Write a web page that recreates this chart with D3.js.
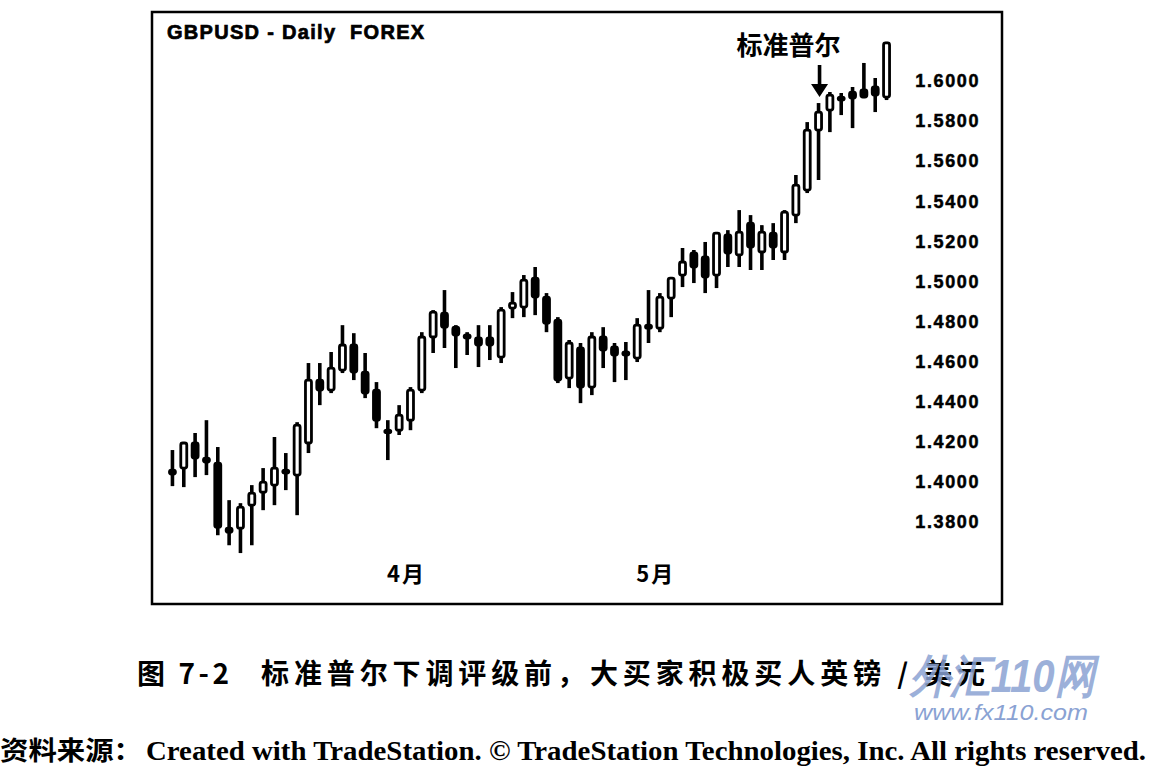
<!DOCTYPE html>
<html lang="zh">
<head>
<meta charset="UTF-8">
<title>GBPUSD - Daily FOREX</title>
<script src="https://d3js.org/d3.v7.min.js"></script>
<style>
  body { margin: 0; background: #fff; }
  svg { display: block; }
</style>
</head>
<body>
<svg id="chart"></svg>
<script>
// trading days, March 3 - May 29, 2009
var dates = [
  "2009-03-03","2009-03-04","2009-03-05","2009-03-06",
  "2009-03-09","2009-03-10","2009-03-11","2009-03-12","2009-03-13",
  "2009-03-16","2009-03-17","2009-03-18","2009-03-19","2009-03-20",
  "2009-03-23","2009-03-24","2009-03-25","2009-03-26","2009-03-27",
  "2009-03-30","2009-03-31","2009-04-01","2009-04-02","2009-04-03",
  "2009-04-06","2009-04-07","2009-04-08","2009-04-09","2009-04-10",
  "2009-04-13","2009-04-14","2009-04-15","2009-04-16","2009-04-17",
  "2009-04-20","2009-04-21","2009-04-22","2009-04-23","2009-04-24",
  "2009-04-27","2009-04-28","2009-04-29","2009-04-30","2009-05-01",
  "2009-05-04","2009-05-05","2009-05-06","2009-05-07","2009-05-08",
  "2009-05-11","2009-05-12","2009-05-13","2009-05-14","2009-05-15",
  "2009-05-18","2009-05-19","2009-05-20","2009-05-21","2009-05-22",
  "2009-05-25","2009-05-26","2009-05-27","2009-05-28","2009-05-29"
];
var opens = [
  1.4059,1.4069,1.4194,1.4119,1.4094,1.3769,1.3769,1.3884,1.3949,1.3984,
  1.4059,1.4034,1.4194,1.4508,1.4458,1.4558,1.4683,1.4548,1.4458,1.4258,
  1.4258,1.4308,1.4458,1.4723,1.4842,1.4772,1.4733,1.4718,1.4718,1.4623,
  1.4867,1.4872,1.5017,1.4922,1.4807,1.4518,1.4668,1.4473,1.4723,1.4673,
  1.4648,1.4618,1.4782,1.4767,1.4917,1.5032,1.5142,1.5122,1.5032,1.5232,
  1.5132,1.5291,1.5147,1.5241,1.5147,1.5331,1.5456,1.5755,1.5855,1.5920,
  1.5945,1.5955,1.5970,1.5920
];
var highs = [
  1.4159,1.4199,1.4244,1.4308,1.4174,1.3909,1.3894,1.3984,1.4069,1.4224,
  1.4144,1.4298,1.4593,1.4593,1.4648,1.4782,1.4742,1.4643,1.4498,1.4308,
  1.4383,1.4473,1.4747,1.4857,1.4957,1.4782,1.4747,1.4782,1.4782,1.4872,
  1.4947,1.5032,1.5072,1.4942,1.4822,1.4708,1.4693,1.4747,1.4772,1.4693,
  1.4698,1.4817,1.4957,1.4942,1.5022,1.5167,1.5157,1.5197,1.5246,1.5256,
  1.5356,1.5331,1.5281,1.5291,1.5356,1.5531,1.5795,1.5890,1.5945,1.5940,
  1.5970,1.6090,1.6015,1.6195
];
var lows = [
  1.3979,1.3974,1.4024,1.4034,1.3734,1.3684,1.3645,1.3684,1.3859,1.3884,
  1.3959,1.3834,1.4144,1.4383,1.4443,1.4543,1.4508,1.4418,1.4268,1.4109,
  1.4234,1.4258,1.4443,1.4643,1.4668,1.4568,1.4633,1.4573,1.4608,1.4593,
  1.4817,1.4822,1.4832,1.4747,1.4493,1.4468,1.4393,1.4433,1.4568,1.4498,
  1.4508,1.4598,1.4693,1.4747,1.4822,1.4972,1.4992,1.4942,1.4967,1.5072,
  1.5072,1.5057,1.5057,1.5107,1.5107,1.5291,1.5441,1.5506,1.5745,1.5830,
  1.5765,1.5915,1.5845,1.5905
];
var closes = [
  1.4039,1.4194,1.4119,1.4099,1.3774,1.3749,1.3874,1.3944,1.3999,1.4069,
  1.4044,1.4283,1.4508,1.4458,1.4568,1.4683,1.4548,1.4443,1.4308,1.4248,
  1.4333,1.4458,1.4723,1.4847,1.4772,1.4733,1.4718,1.4683,1.4683,1.4857,
  1.4892,1.5007,1.4922,1.4792,1.4508,1.4693,1.4473,1.4723,1.4658,1.4633,
  1.4633,1.4782,1.4767,1.4922,1.5017,1.5097,1.5072,1.5022,1.5241,1.5142,
  1.5246,1.5172,1.5246,1.5172,1.5346,1.5481,1.5755,1.5845,1.5930,1.5905,
  1.5915,1.5920,1.5930,1.6190
];
var priceTicks = [1.38, 1.40, 1.42, 1.44, 1.46, 1.48, 1.50, 1.52, 1.54, 1.56, 1.58, 1.60];
var monthTicks = ["2009-04-01", "2009-05-01"];
var monthLabels = ["4月", "5月"];
var title = "GBPUSD - Daily  FOREX";
var note = "标准普尔";
var noteDate = "2009-05-21";
var caption1 = "图 7-2";
var caption2 = "标准普尔下调评级前，大买家积极买人英镑 / 美元";
var source1 = "资料来源：";
var source2 = "Created with TradeStation. © TradeStation Technologies, Inc. All rights reserved.";

var W = 1153, H = 774;
var svg = d3.select("#chart").attr("width", W).attr("height", H);

var data = dates.map(function(d, i) {
    return { date: d, o: opens[i], h: highs[i], l: lows[i], c: closes[i] };
});

var x = d3.scaleBand().domain(dates).range([165.3, 893.7]).padding(0.26);
var y = d3.scaleLinear().domain([1.38, 1.60]).range([522, 81]);
var bw = x.bandwidth();

// frame
svg.append("rect")
   .attr("x", 152).attr("y", 12)
   .attr("width", 850).attr("height", 592)
   .attr("fill", "none").attr("stroke", "#000").attr("stroke-width", 2.5);

svg.append("text")
   .attr("x", 167).attr("y", 39)
   .attr("font-family", "Liberation Sans, Arial, sans-serif")
   .attr("font-weight", "bold").attr("font-size", "20px")
   .attr("letter-spacing", "1.3px")
   .attr("stroke", "#000").attr("stroke-width", 0.7)
   .style("white-space", "pre")
   .text(title);

// price axis on the right
var yAxis = svg.append("g")
   .attr("transform", "translate(980,0)")
   .call(d3.axisRight(y).tickValues(priceTicks).tickSize(0).tickPadding(0).tickFormat(d3.format(".4f")));
yAxis.select(".domain").remove();
yAxis.selectAll("text")
   .attr("text-anchor", "end")
   .attr("font-family", "Liberation Sans, Arial, sans-serif")
   .attr("font-weight", "bold").attr("font-size", "18px")
   .attr("letter-spacing", "1.6px")
   .attr("stroke", "#000").attr("stroke-width", 0.5)
   .attr("fill", "#000");

// month labels
var xAxis = svg.append("g")
   .attr("transform", "translate(0,566)")
   .call(d3.axisBottom(x).tickValues(monthTicks).tickSize(0).tickPadding(0)
        .tickFormat(function(d, i) { return monthLabels[i]; }));
xAxis.select(".domain").remove();
xAxis.selectAll("text")
   .attr("dx", "-4px")
   .attr("font-family", "Noto Sans CJK SC, sans-serif")
   .attr("font-weight", "bold").attr("font-size", "22px")
   .attr("letter-spacing", "2px")
   .attr("fill", "#000");

// candles
var candles = svg.append("g").selectAll("g")
   .data(data).enter().append("g");

candles.append("line")
   .attr("x1", function(d) { return x(d.date) + bw / 2; })
   .attr("x2", function(d) { return x(d.date) + bw / 2; })
   .attr("y1", function(d) { return y(d.h); })
   .attr("y2", function(d) { return y(d.l); })
   .attr("stroke", "#000").attr("stroke-width", 3.6);

candles.append("rect")
   .attr("x", function(d) { return x(d.date) + 1.2; })
   .attr("width", bw - 2.4)
   .attr("y", function(d) { return y(Math.max(d.o, d.c)); })
   .attr("height", function(d) { return Math.max(2.5, Math.abs(y(d.o) - y(d.c))); })
   .attr("rx", 2)
   .attr("fill", function(d) { return d.c > d.o ? "#fff" : "#000"; })
   .attr("stroke", "#000").attr("stroke-width", 2.8);

// annotation
var nd = data[dates.indexOf(noteDate)];
var ax = x(nd.date) + bw / 2 + 1, tip = y(nd.h) - 6;
svg.append("path")
   .attr("d", "M" + (ax - 1.8) + "," + (tip - 32) + "V" + (tip - 13) + "H" + (ax - 8.5) +
              "L" + ax + "," + tip + "L" + (ax + 8.5) + "," + (tip - 13) + "H" + (ax + 1.8) +
              "V" + (tip - 32) + "Z")
   .attr("fill", "#000");
svg.append("text")
   .attr("x", ax - 31).attr("y", tip - 42)
   .attr("text-anchor", "middle")
   .attr("font-family", "Noto Sans CJK SC, sans-serif")
   .attr("font-weight", "bold").attr("font-size", "26px")
   .text(note);

// caption
svg.append("text")
   .attr("x", 137).attr("y", 684)
   .attr("font-family", "Noto Sans CJK SC, sans-serif")
   .attr("font-weight", "bold").attr("font-size", "28px")
   .attr("textLength", 92).attr("lengthAdjust", "spacing")
   .style("white-space", "pre")
   .text(caption1);
svg.append("text")
   .attr("x", 261).attr("y", 684)
   .attr("font-family", "Noto Sans CJK SC, sans-serif")
   .attr("font-weight", "bold").attr("font-size", "28px")
   .attr("textLength", 724).attr("lengthAdjust", "spacing")
   .text(caption2);

// watermark
svg.append("text")
   .attr("x", 910).attr("y", 692)
   .attr("font-family", "Liberation Sans, sans-serif")
   .attr("font-weight", "bold").attr("font-style", "italic").attr("font-size", "46px")
   .attr("fill", "#8aa2d3").attr("fill-opacity", 0.85)
   .attr("textLength", 185).attr("lengthAdjust", "spacingAndGlyphs")
   .text("外汇110网");
svg.append("text")
   .attr("x", 914).attr("y", 720)
   .attr("font-family", "Liberation Sans, sans-serif")
   .attr("font-style", "italic").attr("font-size", "22px")
   .attr("fill", "#8aa2d3")
   .attr("textLength", 174).attr("lengthAdjust", "spacingAndGlyphs")
   .text("www.fx110.com");

// source line
svg.append("text")
   .attr("x", 0).attr("y", 760)
   .attr("font-family", "Noto Sans CJK SC, sans-serif")
   .attr("font-weight", "bold").attr("font-size", "26px")
   .attr("textLength", 142).attr("lengthAdjust", "spacingAndGlyphs")
   .text(source1);
svg.append("text")
   .attr("x", 146).attr("y", 760)
   .attr("font-family", "Liberation Serif, Times New Roman, serif")
   .attr("font-weight", "bold").attr("font-size", "27px")
   .attr("textLength", 1000).attr("lengthAdjust", "spacingAndGlyphs")
   .text(source2);
</script>
</body>
</html>
